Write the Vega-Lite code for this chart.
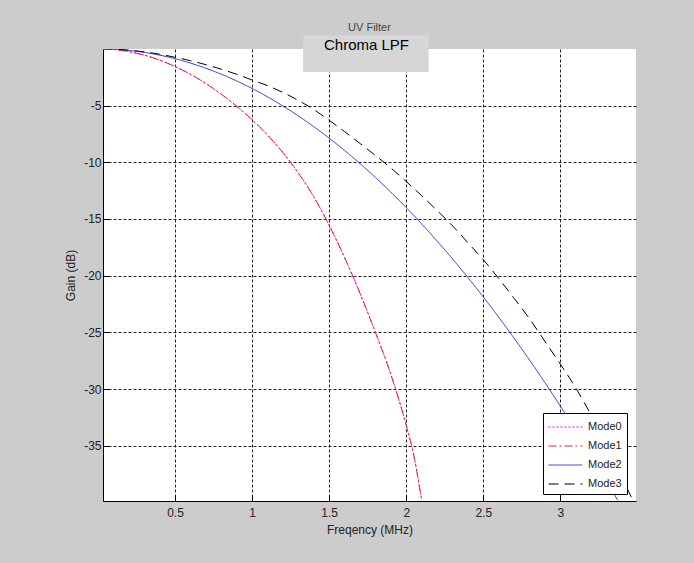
{
  "$schema": "https://vega.github.io/schema/vega-lite/v6.json",
  "width": 533,
  "height": 452,
  "autosize": {"type": "none"},
  "padding": {"left": 103, "top": 49, "right": 58, "bottom": 62},
  "background": "#cccccc",
  "config": {
    "font": "Liberation Sans",
    "view": {"stroke": null, "fill": "white"}
  },
  "title": {
    "text": "UV Filter",
    "fontSize": 11,
    "fontWeight": "normal",
    "color": "#444444",
    "anchor": "middle",
    "offset": 2
  },
  "datasets": {
    "curves": [
      {"f": 0.03, "g": 0, "mode": "Mode0"},
      {"f": 0.1, "g": -0.06, "mode": "Mode0"},
      {"f": 0.2, "g": -0.25, "mode": "Mode0"},
      {"f": 0.3, "g": -0.56, "mode": "Mode0"},
      {"f": 0.4, "g": -1.0, "mode": "Mode0"},
      {"f": 0.5, "g": -1.56, "mode": "Mode0"},
      {"f": 0.6, "g": -2.25, "mode": "Mode0"},
      {"f": 0.7, "g": -3.06, "mode": "Mode0"},
      {"f": 0.8, "g": -4.0, "mode": "Mode0"},
      {"f": 0.9, "g": -5.06, "mode": "Mode0"},
      {"f": 1.0, "g": -6.25, "mode": "Mode0"},
      {"f": 1.1, "g": -7.6, "mode": "Mode0"},
      {"f": 1.2, "g": -9.15, "mode": "Mode0"},
      {"f": 1.3, "g": -10.95, "mode": "Mode0"},
      {"f": 1.4, "g": -13.05, "mode": "Mode0"},
      {"f": 1.5, "g": -15.55, "mode": "Mode0"},
      {"f": 1.6, "g": -18.4, "mode": "Mode0"},
      {"f": 1.7, "g": -21.55, "mode": "Mode0"},
      {"f": 1.8, "g": -25.0, "mode": "Mode0"},
      {"f": 1.9, "g": -28.7, "mode": "Mode0"},
      {"f": 2.0, "g": -33.2, "mode": "Mode0"},
      {"f": 2.05, "g": -35.9, "mode": "Mode0"},
      {"f": 2.1, "g": -39.8, "mode": "Mode0"},

      {"f": 0.03, "g": 0, "mode": "Mode1"},
      {"f": 0.1, "g": -0.06, "mode": "Mode1"},
      {"f": 0.2, "g": -0.25, "mode": "Mode1"},
      {"f": 0.3, "g": -0.56, "mode": "Mode1"},
      {"f": 0.4, "g": -1.0, "mode": "Mode1"},
      {"f": 0.5, "g": -1.56, "mode": "Mode1"},
      {"f": 0.6, "g": -2.25, "mode": "Mode1"},
      {"f": 0.7, "g": -3.06, "mode": "Mode1"},
      {"f": 0.8, "g": -4.0, "mode": "Mode1"},
      {"f": 0.9, "g": -5.06, "mode": "Mode1"},
      {"f": 1.0, "g": -6.25, "mode": "Mode1"},
      {"f": 1.1, "g": -7.6, "mode": "Mode1"},
      {"f": 1.2, "g": -9.15, "mode": "Mode1"},
      {"f": 1.3, "g": -10.95, "mode": "Mode1"},
      {"f": 1.4, "g": -13.05, "mode": "Mode1"},
      {"f": 1.5, "g": -15.55, "mode": "Mode1"},
      {"f": 1.6, "g": -18.4, "mode": "Mode1"},
      {"f": 1.7, "g": -21.55, "mode": "Mode1"},
      {"f": 1.8, "g": -25.0, "mode": "Mode1"},
      {"f": 1.9, "g": -28.7, "mode": "Mode1"},
      {"f": 2.0, "g": -33.2, "mode": "Mode1"},
      {"f": 2.05, "g": -35.9, "mode": "Mode1"},
      {"f": 2.1, "g": -39.8, "mode": "Mode1"},

      {"f": 0.03, "g": 0, "mode": "Mode2"},
      {"f": 0.1, "g": -0.035, "mode": "Mode2"},
      {"f": 0.2, "g": -0.14, "mode": "Mode2"},
      {"f": 0.3, "g": -0.315, "mode": "Mode2"},
      {"f": 0.4, "g": -0.56, "mode": "Mode2"},
      {"f": 0.5, "g": -0.875, "mode": "Mode2"},
      {"f": 0.6, "g": -1.26, "mode": "Mode2"},
      {"f": 0.7, "g": -1.715, "mode": "Mode2"},
      {"f": 0.8, "g": -2.24, "mode": "Mode2"},
      {"f": 0.9, "g": -2.835, "mode": "Mode2"},
      {"f": 1.0, "g": -3.5, "mode": "Mode2"},
      {"f": 1.1, "g": -4.235, "mode": "Mode2"},
      {"f": 1.2, "g": -5.04, "mode": "Mode2"},
      {"f": 1.3, "g": -5.915, "mode": "Mode2"},
      {"f": 1.4, "g": -6.86, "mode": "Mode2"},
      {"f": 1.5, "g": -7.875, "mode": "Mode2"},
      {"f": 1.6, "g": -8.96, "mode": "Mode2"},
      {"f": 1.7, "g": -10.115, "mode": "Mode2"},
      {"f": 1.8, "g": -11.34, "mode": "Mode2"},
      {"f": 1.9, "g": -12.635, "mode": "Mode2"},
      {"f": 2.0, "g": -14.0, "mode": "Mode2"},
      {"f": 2.1, "g": -15.435, "mode": "Mode2"},
      {"f": 2.2, "g": -16.94, "mode": "Mode2"},
      {"f": 2.3, "g": -18.515, "mode": "Mode2"},
      {"f": 2.4, "g": -20.16, "mode": "Mode2"},
      {"f": 2.5, "g": -21.875, "mode": "Mode2"},
      {"f": 2.6, "g": -23.66, "mode": "Mode2"},
      {"f": 2.7, "g": -25.515, "mode": "Mode2"},
      {"f": 2.8, "g": -27.44, "mode": "Mode2"},
      {"f": 2.9, "g": -29.435, "mode": "Mode2"},
      {"f": 3.0, "g": -31.5, "mode": "Mode2"},
      {"f": 3.1, "g": -33.635, "mode": "Mode2"},
      {"f": 3.2, "g": -35.84, "mode": "Mode2"},
      {"f": 3.3, "g": -38.115, "mode": "Mode2"},
      {"f": 3.372, "g": -39.8, "mode": "Mode2"},

      {"f": 0.03, "g": 0, "mode": "Mode3"},
      {"f": 0.1, "g": -0.03, "mode": "Mode3"},
      {"f": 0.2, "g": -0.12, "mode": "Mode3"},
      {"f": 0.3, "g": -0.27, "mode": "Mode3"},
      {"f": 0.4, "g": -0.48, "mode": "Mode3"},
      {"f": 0.5, "g": -0.75, "mode": "Mode3"},
      {"f": 0.6, "g": -1.05, "mode": "Mode3"},
      {"f": 0.7, "g": -1.4, "mode": "Mode3"},
      {"f": 0.8, "g": -1.8, "mode": "Mode3"},
      {"f": 0.9, "g": -2.25, "mode": "Mode3"},
      {"f": 1.0, "g": -2.75, "mode": "Mode3"},
      {"f": 1.1, "g": -3.25, "mode": "Mode3"},
      {"f": 1.2, "g": -3.85, "mode": "Mode3"},
      {"f": 1.3, "g": -4.55, "mode": "Mode3"},
      {"f": 1.4, "g": -5.35, "mode": "Mode3"},
      {"f": 1.5, "g": -6.3, "mode": "Mode3"},
      {"f": 1.6, "g": -7.3, "mode": "Mode3"},
      {"f": 1.7, "g": -8.35, "mode": "Mode3"},
      {"f": 1.8, "g": -9.4, "mode": "Mode3"},
      {"f": 1.9, "g": -10.5, "mode": "Mode3"},
      {"f": 2.0, "g": -11.7, "mode": "Mode3"},
      {"f": 2.1, "g": -12.95, "mode": "Mode3"},
      {"f": 2.2, "g": -14.25, "mode": "Mode3"},
      {"f": 2.3, "g": -15.6, "mode": "Mode3"},
      {"f": 2.4, "g": -17.1, "mode": "Mode3"},
      {"f": 2.5, "g": -18.6, "mode": "Mode3"},
      {"f": 2.6, "g": -20.25, "mode": "Mode3"},
      {"f": 2.7, "g": -22.0, "mode": "Mode3"},
      {"f": 2.8, "g": -23.8, "mode": "Mode3"},
      {"f": 2.9, "g": -25.8, "mode": "Mode3"},
      {"f": 3.0, "g": -27.8, "mode": "Mode3"},
      {"f": 3.1, "g": -29.9, "mode": "Mode3"},
      {"f": 3.2, "g": -32.3, "mode": "Mode3"},
      {"f": 3.3, "g": -34.9, "mode": "Mode3"},
      {"f": 3.4, "g": -37.8, "mode": "Mode3"},
      {"f": 3.47, "g": -39.8, "mode": "Mode3"}
    ]
  },
  "layer": [
    {
      "data": {"name": "curves"},
      "mark": {"type": "line", "strokeWidth": 1, "clip": true, "interpolate": "monotone"},
      "encoding": {
        "x": {
          "field": "f",
          "type": "quantitative",
          "scale": {"domain": [0.033, 3.49], "nice": false, "zero": false},
          "axis": {
            "title": "Freqency (MHz)",
            "values": [0.5, 1, 1.5, 2, 2.5, 3],
            "labelExpr": "datum.value + ''",
            "grid": true,
            "gridDash": [3, 2],
            "gridColor": "#222222",
            "gridOpacity": 1,
            "gridWidth": 1,
            "domainColor": "#000000",
            "domainWidth": 1,
            "tickColor": "#000000",
            "tickSize": -6,
            "labelPadding": 12,
            "labelFontSize": 12,
            "labelColor": "#222222",
            "titleFontSize": 12,
            "titleFontWeight": "normal",
            "titleColor": "#222222",
            "titlePadding": 6
          }
        },
        "y": {
          "field": "g",
          "type": "quantitative",
          "scale": {"domain": [-39.85, -0.02], "nice": false, "zero": false},
          "axis": {
            "title": "Gain (dB)",
            "values": [-35, -30, -25, -20, -15, -10, -5],
            "labelExpr": "datum.value + ''",
            "grid": true,
            "gridDash": [3, 2],
            "gridColor": "#222222",
            "gridOpacity": 1,
            "gridWidth": 1,
            "domainColor": "#000000",
            "domainWidth": 1,
            "tickColor": "#000000",
            "tickSize": -6,
            "labelPadding": 8,
            "labelFontSize": 12,
            "labelColor": "#222222",
            "titleFontSize": 12,
            "titleFontWeight": "normal",
            "titleColor": "#222222",
            "titlePadding": 6
          }
        },
        "color": {
          "field": "mode",
          "type": "nominal",
          "scale": {
            "domain": ["Mode0", "Mode1", "Mode2", "Mode3"],
            "range": ["#ff00ff", "#dd2a2a", "#3030d0", "#000000"]
          },
          "legend": {
            "title": null,
            "orient": "none",
            "legendX": 440,
            "legendY": 364,
            "fillColor": "white",
            "strokeColor": "#000000",
            "padding": 5,
            "symbolType": "M-1,0L3,0",
            "symbolSize": 289,
            "symbolStrokeWidth": 1,
            "labelFontSize": 11,
            "labelColor": "#222222",
            "labelOffset": 22,
            "rowPadding": 5
          }
        },
        "strokeDash": {
          "field": "mode",
          "type": "nominal",
          "scale": {
            "domain": ["Mode0", "Mode1", "Mode2", "Mode3"],
            "range": [[2, 2], [8, 3, 2, 3], [1, 0], [10, 6]]
          },
          "legend": {
            "title": null,
            "orient": "none",
            "legendX": 440,
            "legendY": 364,
            "fillColor": "white",
            "strokeColor": "#000000",
            "padding": 5,
            "symbolType": "M-1,0L3,0",
            "symbolSize": 289,
            "symbolStrokeWidth": 1,
            "labelFontSize": 11,
            "labelColor": "#222222",
            "labelOffset": 22,
            "rowPadding": 5
          }
        }
      }
    },
    {
      "data": {"values": [{}]},
      "mark": {"type": "rect", "fill": "#d6d6d6", "stroke": null},
      "encoding": {
        "x": {"datum": 1.331, "type": "quantitative"},
        "x2": {"datum": 2.145},
        "y": {"datum": 1.19, "type": "quantitative"},
        "y2": {"datum": -2.04}
      }
    },
    {
      "data": {"values": [{}]},
      "mark": {"type": "text", "fontSize": 15, "color": "#000000", "align": "center", "baseline": "middle"},
      "encoding": {
        "x": {"datum": 1.742, "type": "quantitative"},
        "y": {"datum": 0.33, "type": "quantitative"},
        "text": {"value": "Chroma LPF"}
      }
    }
  ]
}
